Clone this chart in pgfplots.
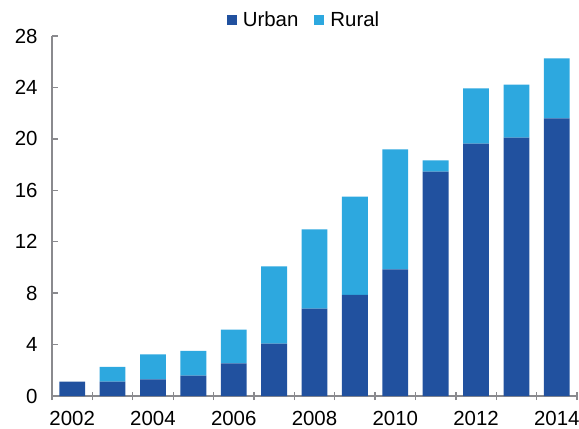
\documentclass[border=0pt]{standalone}
\usepackage{pgfplots}
\pgfplotsset{compat=1.18}
\usepackage{fontspec}
\setmainfont{Liberation Sans}
\definecolor{urban}{HTML}{21519F}
\definecolor{rural}{HTML}{2DA8DF}
\definecolor{axgray}{HTML}{8A8A8E}
\pgfplotstableread{
x urban rural
0 1.11 0.00
1 1.11 1.15
2 1.30 1.94
3 1.58 1.92
4 2.54 2.62
5 4.07 6.02
6 6.79 6.17
7 7.86 7.64
8 9.85 9.34
9 17.45 0.88
10 19.63 4.30
11 20.09 4.12
12 21.60 4.66
}\datatable
\begin{document}
\begin{tikzpicture}
\path[use as bounding box] (-52bp,-33bp) rectangle (527bp,396bp);
\begin{axis}[
  scale only axis,
  width=525bp, height=360bp,
  ybar stacked,
  bar width=0.64,
  xmin=-0.5, xmax=12.5,
  ymin=0, ymax=28,
  ytick={0,4,...,28},
  xtick={0,2,...,12},
  xticklabels={2002,2004,2006,2008,2010,2012,2014},
  minor xtick={-0.5,0.5,...,12.5},
  major x tick style={draw=none},
  minor tick length=8bp,
  axis x line*=bottom,
  axis y line*=left,
  axis line style={axgray, line width=1.3bp, -},
  every tick/.style={axgray, line width=1.3bp},
  xtick align=center,
  ytick align=inside,
  major tick length=6bp,
  tick label style={font=\fontsize{20.5}{23}\selectfont, text=black},
  /pgf/number format/assume math mode=true,
  yticklabel style={xshift=-11bp},
  xticklabel style={yshift=-9bp},
  legend style={at={(axis description cs:0.48,1.011)}, anchor=south, draw=none, fill=none,
    legend columns=2, font=\fontsize{20.5}{23}\selectfont,
    /tikz/every odd column/.append style={column sep=4bp},
    /tikz/every even column/.append style={column sep=14bp}},
  legend image code/.code={\fill[#1] (0bp,-5bp) rectangle (10bp,5bp);},
  clip=false,
]
\addplot[fill=urban, draw=none] table[x=x, y=urban] {\datatable};
\addlegendentry{Urban}
\addplot[fill=rural, draw=none] table[x=x, y=rural] {\datatable};
\addlegendentry{Rural}
\end{axis}
\end{tikzpicture}
\end{document}
